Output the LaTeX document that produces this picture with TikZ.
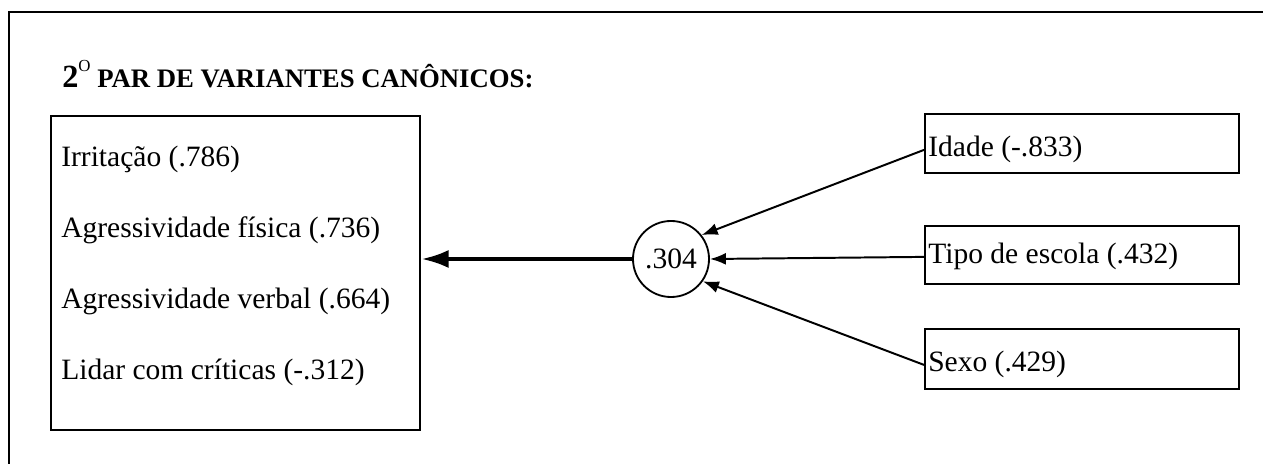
\documentclass[tikz,border=0pt]{standalone}
\usepackage{fontspec}
\setmainfont{Liberation Serif}
\usetikzlibrary{arrows.meta}

\tikzset{
    box/.style={draw, line width=1.6pt, inner sep=0pt, anchor=north west},
    lbl/.style={anchor=base west, inner sep=0pt, font=\fontsize{21}{25}\selectfont},
    thin arrow/.style={line width=1.4pt, -{Latex[length=0.4cm, width=0.3cm]}},
}

\begin{document}
\begin{tikzpicture}[x=0.025cm, y=-0.025cm]
    \useasboundingbox (0,0) rectangle (1263,464);
    \draw[line width=1.2pt] (9,470) -- (9,12) -- (1270,12);

    \node[anchor=base west, inner sep=0pt] (title) at (62,88)
        {\bfseries\fontsize{23}{28}\selectfont 2\raisebox{0.5em}{\normalfont\fontsize{12}{12}\selectfont O}\fontsize{19}{22}\selectfont\ PAR DE VARIANTES CANÔNICOS:};

    \node[box, minimum width=9.225cm, minimum height=7.85cm] (crit) at (50,115) {};
    \node[lbl] (irr) at (61,167) {Irritação (.786)};
    \node[lbl] (afis) at (61,238) {Agressividade física (.736)};
    \node[lbl] (aver) at (61,309) {Agressividade verbal (.664)};
    \node[lbl] (crt) at (61,380) {Lidar com críticas (-.312)};

    \node[draw, circle, line width=1.3pt, minimum size=1.9cm, inner sep=0pt,
          font=\fontsize{21}{25}\selectfont] (r) at (671,259) {.304};

    \node[box, minimum width=7.85cm, minimum height=1.475cm] (idbox) at (924,113) {};
    \node[lbl] (idade) at (928,157) {Idade (-.833)};
    \node[box, minimum width=7.85cm, minimum height=1.45cm] (tpbox) at (924,225) {};
    \node[lbl] (tipo) at (928,264) {Tipo de escola (.432)};
    \node[box, minimum width=7.85cm, minimum height=1.5cm] (sxbox) at (924,328) {};
    \node[lbl] (sexo) at (928,372) {Sexo (.429)};

    \draw[line width=2.8pt, -{Latex[length=0.68cm, width=0.45cm]}] (r.west) -- (r.west -| crit.east);
    \draw[thin arrow] (idade.west -| idbox.west) -- (r.38);
    \draw[thin arrow] (tipo.west -| tpbox.west) -- (r.east);
    \draw[thin arrow] (sexo.west -| sxbox.west) -- (r.-35);
\end{tikzpicture}
\end{document}
